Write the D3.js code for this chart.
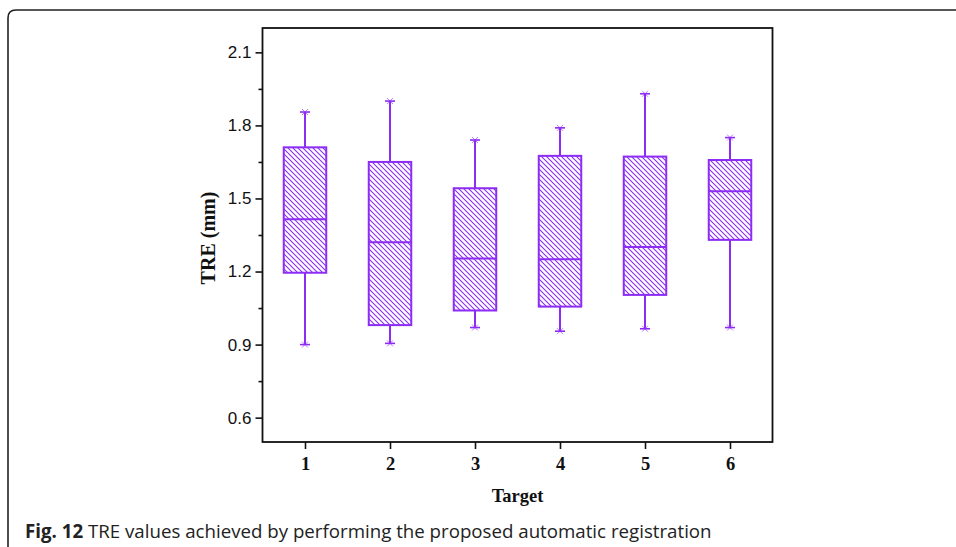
<!DOCTYPE html>
<html>
<head>
<meta charset="utf-8">
<script src="https://cdn.jsdelivr.net/npm/d3@7"></script>
<style>
  body { margin: 0; background: #fff; }
  svg { display: block; }
</style>
</head>
<body>
<svg id="chart" width="956" height="547"></svg>
<script>
// data
const targets = [1, 2, 3, 4, 5, 6];
const whiskerLow  = [0.900, 0.905, 0.970, 0.955, 0.965, 0.970];
const q1          = [1.195, 0.980, 1.040, 1.056, 1.104, 1.330];
const median      = [1.415, 1.320, 1.253, 1.250, 1.301, 1.530];
const q3          = [1.710, 1.650, 1.542, 1.675, 1.672, 1.658];
const whiskerHigh = [1.855, 1.900, 1.740, 1.790, 1.930, 1.750];
const yTicks = [0.6, 0.9, 1.2, 1.5, 1.8, 2.1];
const yMinorTicks = [0.75, 1.05, 1.35, 1.65, 1.95];

const svg = d3.select("svg#chart");
const boxColor = "#8c2cf5";

const x = d3.scaleLinear().domain([0.5, 6.5]).range([262.5, 772.5]);
const y = d3.scaleLinear().domain([0.5, 2.2]).range([442, 28]);

// outer figure frame (rounded corner at top left)
svg.append("path")
    .attr("d", "M8,560 L8,18 Q8,10 16,10 L960,10")
    .attr("fill", "none")
    .attr("stroke", "#222")
    .attr("stroke-width", 1.6);

// hatch pattern, lines running top-left to bottom-right
const defs = svg.append("defs");
const T = 5;
const pat = defs.append("pattern")
    .attr("id", "hatch")
    .attr("patternUnits", "userSpaceOnUse")
    .attr("width", T)
    .attr("height", T);
pat.append("rect").attr("width", T).attr("height", T).attr("fill", "#fff");
pat.append("path")
    .attr("d", `M0,0L${T},${T}M${-1},${T - 1}L1,${T + 1}M${T - 1},-1L${T + 1},1`)
    .attr("stroke", boxColor).attr("stroke-width", 1.1);

const boxes = targets.map((t, i) => ({
    t: t, lo: whiskerLow[i], q1: q1[i], med: median[i], q3: q3[i], hi: whiskerHigh[i]
}));
const halfW = 0.25;

const g = svg.append("g");

// whiskers
g.selectAll("line.whisker-up").data(boxes).join("line")
    .attr("x1", d => x(d.t)).attr("x2", d => x(d.t))
    .attr("y1", d => y(d.q3)).attr("y2", d => y(d.hi))
    .attr("stroke", boxColor).attr("stroke-width", 2);
g.selectAll("line.whisker-down").data(boxes).join("line")
    .attr("x1", d => x(d.t)).attr("x2", d => x(d.t))
    .attr("y1", d => y(d.q1)).attr("y2", d => y(d.lo))
    .attr("stroke", boxColor).attr("stroke-width", 2);

// caps with small x markers
function drawCap(sel, key) {
    sel.selectAll("line.cap-" + key).data(boxes).join("line")
        .attr("x1", d => x(d.t) - 5).attr("x2", d => x(d.t) + 5)
        .attr("y1", d => y(d[key])).attr("y2", d => y(d[key]))
        .attr("stroke", boxColor).attr("stroke-width", 1.6);
    sel.selectAll("path.mark-" + key).data(boxes).join("path")
        .attr("d", d => {
            const cx = x(d.t), cy = y(d[key]);
            return `M${cx - 3},${cy - 3}L${cx + 3},${cy + 3}M${cx - 3},${cy + 3}L${cx + 3},${cy - 3}`;
        })
        .attr("stroke", boxColor).attr("stroke-width", 1).attr("opacity", 0.6);
}
drawCap(g, "hi");
drawCap(g, "lo");

// boxes
g.selectAll("rect.box").data(boxes).join("rect")
    .attr("x", d => x(d.t - halfW))
    .attr("width", d => x(d.t + halfW) - x(d.t - halfW))
    .attr("y", d => y(d.q3))
    .attr("height", d => y(d.q1) - y(d.q3))
    .attr("fill", "url(#hatch)")
    .attr("stroke", boxColor)
    .attr("stroke-width", 2);

// medians
g.selectAll("line.median").data(boxes).join("line")
    .attr("x1", d => x(d.t - halfW)).attr("x2", d => x(d.t + halfW))
    .attr("y1", d => y(d.med)).attr("y2", d => y(d.med))
    .attr("stroke", boxColor).attr("stroke-width", 2);

// plot frame
svg.append("rect")
    .attr("x", x(0.5)).attr("y", y(2.2))
    .attr("width", x(6.5) - x(0.5)).attr("height", y(0.5) - y(2.2))
    .attr("fill", "none").attr("stroke", "#111").attr("stroke-width", 1.8);

// y axis
const yAxis = svg.append("g")
    .attr("transform", `translate(${x(0.5)},0)`)
    .call(d3.axisLeft(y).tickValues(yTicks).tickSize(7).tickSizeOuter(0).tickPadding(4).tickFormat(d3.format(".1f")));
yAxis.select(".domain").remove();
yAxis.selectAll(".tick line").attr("stroke", "#111").attr("stroke-width", 1.6);
yAxis.selectAll(".tick text")
    .attr("font-family", "Liberation Sans, Arial, sans-serif")
    .style("font-size", "17px")
    .attr("fill", "#111");

const yMinor = svg.append("g")
    .attr("transform", `translate(${x(0.5)},0)`)
    .call(d3.axisLeft(y).tickValues(yMinorTicks).tickSize(4).tickSizeOuter(0).tickFormat(""));
yMinor.select(".domain").remove();
yMinor.selectAll(".tick line").attr("stroke", "#111").attr("stroke-width", 1.6);

// x axis
const xAxis = svg.append("g")
    .attr("transform", `translate(0,${y(0.5)})`)
    .call(d3.axisBottom(x).tickValues(targets).tickSize(7).tickSizeOuter(0).tickPadding(8).tickFormat(d3.format("d")));
xAxis.select(".domain").remove();
xAxis.selectAll(".tick line").attr("stroke", "#111").attr("stroke-width", 1.6);
xAxis.selectAll(".tick text")
    .attr("font-family", "Liberation Serif, Times New Roman, serif")
    .attr("font-weight", "bold")
    .style("font-size", "18.5px")
    .attr("fill", "#111");

// axis titles
svg.append("text")
    .attr("transform", "translate(215,238) rotate(-90)")
    .attr("text-anchor", "middle")
    .attr("font-family", "Liberation Serif, Times New Roman, serif")
    .attr("font-weight", "bold")
    .style("font-size", "20px")
    .attr("fill", "#111")
    .text("TRE (mm)");

svg.append("text")
    .attr("x", x(3.5))
    .attr("y", 502)
    .attr("text-anchor", "middle")
    .attr("font-family", "Liberation Serif, Times New Roman, serif")
    .attr("font-weight", "bold")
    .style("font-size", "18.5px")
    .attr("fill", "#111")
    .text("Target");

// caption
const cap = svg.append("text")
    .attr("x", 25)
    .attr("y", 538)
    .attr("font-family", "Open Sans, sans-serif")
    .style("font-size", "18.7px")
    .attr("fill", "#222");
cap.append("tspan").attr("font-weight", "bold").text("Fig. 12");
cap.append("tspan").text(" TRE values achieved by performing the proposed automatic registration");
</script>
</body>
</html>
